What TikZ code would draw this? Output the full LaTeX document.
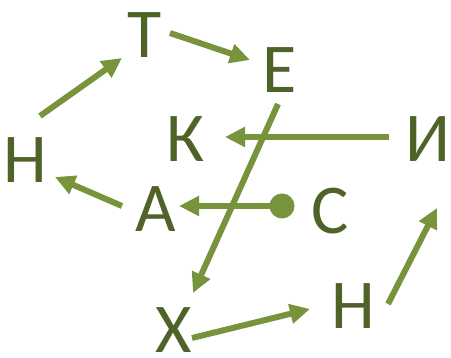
\documentclass[tikz,border=0pt]{standalone}
\usepackage{fontspec}
\setmainfont{Carlito}
\usetikzlibrary{arrows.meta}
\definecolor{txtgreen}{HTML}{4F6228}
\definecolor{arrgreen}{HTML}{77933C}
\tikzset{
  letter/.style={inner sep=0pt, text=txtgreen, font=\fontsize{70}{70}\selectfont},
  conn/.style={draw=arrgreen, line width=6pt, -{Triangle[length=20pt,width=19pt]}},
}
\begin{document}
\begin{tikzpicture}[x=1pt,y=-1pt]
\useasboundingbox (0,0) rectangle (451,358);
\node[letter] (T) at (145,35) {Т};
\node[letter] (E) at (280,70) {Е};
\node[letter] (N1) at (25,160) {Н};
\node[letter] (K) at (186,139) {К};
\node[letter] (I) at (428,139) {И};
\node[letter] (A) at (156,209) {А};
\node[letter] (S) at (330,211) {С};
\node[letter] (X) at (174,330) {Х};
\node[letter] (N2) at (353,306) {Н};
\node[circle, fill=arrgreen, inner sep=0pt, minimum size=25pt] (dot) at (282,206) {};
\coordinate (n1s) at (40,116); \coordinate (te) at (122,58);
\coordinate (ts) at (170,33); \coordinate (ee) at (250,60);
\coordinate (es) at (278,104); \coordinate (xe) at (193,293);
\coordinate (is) at (389,137); \coordinate (ke) at (225,137);
\coordinate (ae) at (179,206);
\coordinate (as) at (122,206); \coordinate (n1e) at (55,177);
\coordinate (xs) at (192,338); \coordinate (n2e) at (310,309);
\coordinate (n2s) at (388,304); \coordinate (ie) at (437,208);
\draw[conn] (n1s) -- (te);
\draw[conn] (ts) -- (ee);
\draw[conn] (es) -- (xe);
\draw[conn] (is) -- (ke);
\draw[conn] (dot.center) -- (ae);
\draw[conn] (as) -- (n1e);
\draw[conn] (xs) -- (n2e);
\draw[conn] (n2s) -- (ie);
\end{tikzpicture}
\end{document}
